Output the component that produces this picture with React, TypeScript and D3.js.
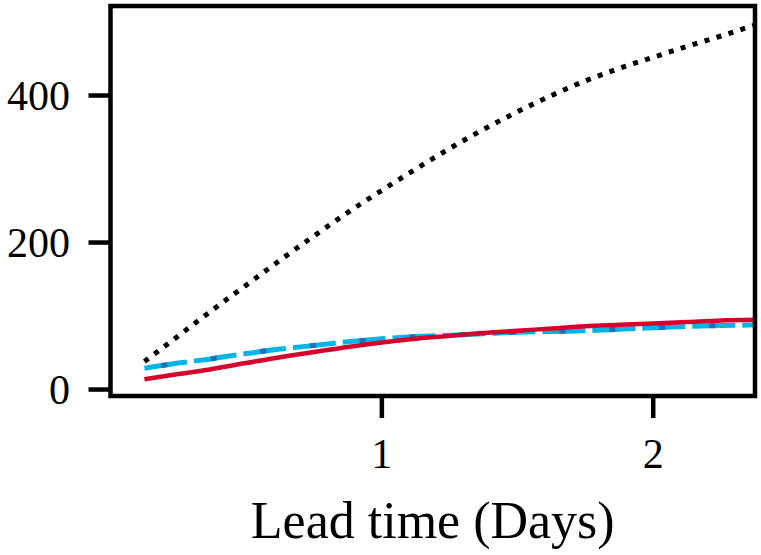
import { line, curveMonotoneX, scaleLinear } from "d3";

// lead time in days (3-hourly steps)
const leadDays = [
  0.125, 0.25, 0.375, 0.5, 0.625, 0.75, 0.875, 1.0, 1.125, 1.25, 1.375, 1.5, 1.625, 1.75, 1.875, 2.0,
  2.125, 2.25, 2.375,
];
const dottedSeries = [
  38, 73, 108, 142, 176, 209, 241, 271, 300, 328, 354, 378, 400, 420, 437, 452, 467, 481, 496,
];
const cyanSeries = [29, 36, 42, 49, 55, 60, 65, 69, 72, 74, 76, 78, 79, 80, 82, 84, 86, 87, 88];
const blueSeries = [29, 36, 42, 49, 55, 60, 65, 69, 72, 74, 76, 78, 79, 80, 82, 84, 86, 87, 88];
const redSeries = [14, 21, 28, 36, 44, 51, 58, 64, 69, 73, 77, 80, 83, 86, 88, 90, 92, 94, 95];

const xTicks = [1, 2];
const yTicks = [0, 200, 400];

const W = 761;
const H = 555;
const left = 110.5;
const right = 755;
const top = 6;
const bottom = 396;
const font = "'Liberation Serif', 'Times New Roman', serif";

export default function App() {
  const x = scaleLinear().domain([0, 2.375]).range([left, right]);
  const y = scaleLinear().domain([-8.8, 521.8]).range([bottom, top]);

  const makePath = (vals: number[]) =>
    line<number>()
      .x((_, i) => x(leadDays[i]))
      .y((d) => y(d))
      .curve(curveMonotoneX)(vals) ?? "";

  return (
    <div style={{ position: "absolute", left: 0, top: 0 }}>
      <svg width={W} height={H} viewBox={`0 0 ${W} ${H}`} style={{ display: "block", background: "#fff" }}>
        <g fill="none" strokeLinejoin="round">
          <path d={makePath(dottedSeries)} stroke="#000" strokeWidth={5} strokeDasharray="5 7.5" />
          <path d={makePath(cyanSeries)} stroke="#00b5e6" strokeWidth={5} strokeDasharray="43 7" />
          <path
            d={makePath(blueSeries)}
            stroke="#1f6fb5"
            strokeWidth={5}
            strokeDasharray="6 44"
            strokeDashoffset={-17}
          />
          <path d={makePath(redSeries)} stroke="#d6002e" strokeWidth={4.5} />
        </g>

        <rect
          x={left}
          y={top}
          width={right - left}
          height={bottom - top}
          fill="none"
          stroke="#000"
          strokeWidth={4.5}
        />

        {yTicks.map((t) => (
          <g key={`y${t}`}>
            <line x1={left - 22} x2={left} y1={y(t)} y2={y(t)} stroke="#000" strokeWidth={4.5} />
            <text
              x={70}
              y={y(t) + 14}
              textAnchor="end"
              fontFamily={font}
              fontSize={42}
              fill="#000"
            >
              {t}
            </text>
          </g>
        ))}

        {xTicks.map((t) => (
          <g key={`x${t}`}>
            <line x1={x(t)} x2={x(t)} y1={bottom} y2={bottom + 22} stroke="#000" strokeWidth={4.5} />
            <text x={x(t)} y={468} textAnchor="middle" fontFamily={font} fontSize={42} fill="#000">
              {t}
            </text>
          </g>
        ))}

        <text
          x={(left + right) / 2}
          y={538}
          textAnchor="middle"
          fontFamily={font}
          fontSize={52}
          fill="#000"
        >
          Lead time (Days)
        </text>
      </svg>
    </div>
  );
}
